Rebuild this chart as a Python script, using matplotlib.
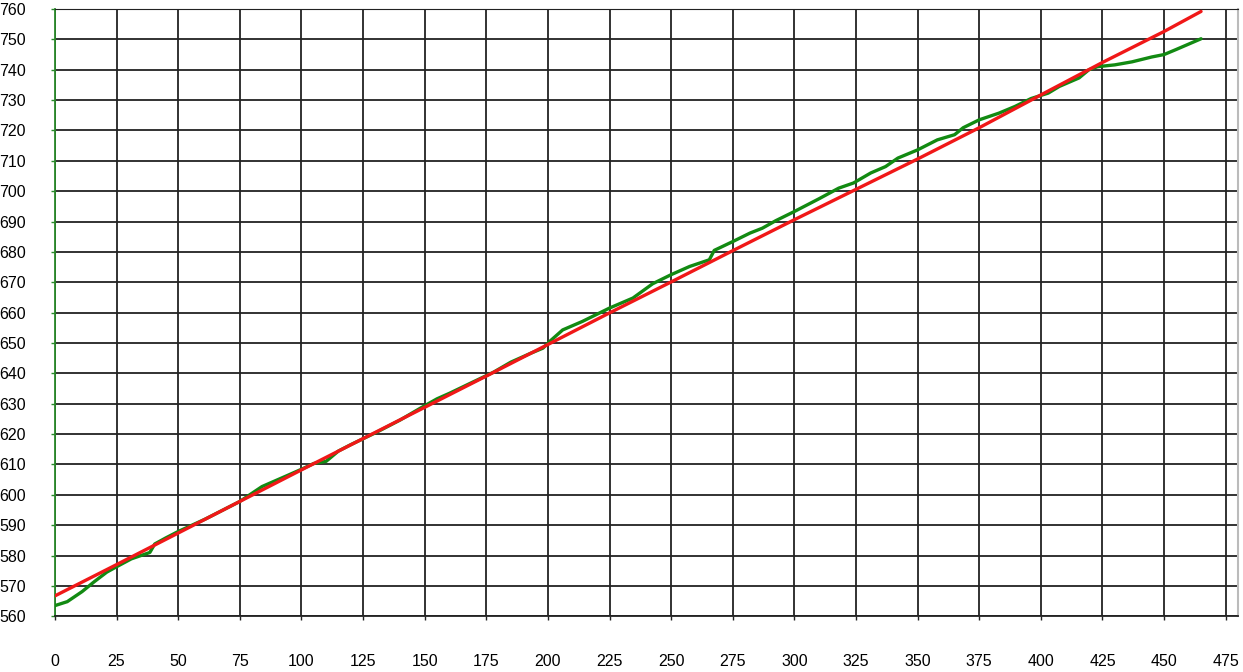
import matplotlib
matplotlib.use('Agg')
import matplotlib.pyplot as plt
from matplotlib.ticker import MultipleLocator

plt.rcParams['font.family'] = ['Liberation Sans', 'DejaVu Sans']

# измеренные значения (зелёная кривая)
green_x = [0, 5, 11, 16, 21, 25, 31, 36, 38.5, 40.5, 45, 50, 61, 75, 84, 95, 100,
           105, 110, 115, 120, 130, 140, 148, 155, 160, 170, 178, 185, 193, 198,
           201, 206, 214, 225, 234.5, 242.5, 250, 257.5, 265.5, 267.5, 275, 282,
           287, 292.5, 300, 310, 318, 324, 331, 337, 342, 350, 358, 365, 368.5,
           375, 383, 389.5, 396, 403, 407.5, 415.5, 419.5, 423, 430, 437, 445,
           450, 455, 465]
green_y = [563.5, 564.8, 568.1, 571.4, 574.5, 576.3, 578.9, 580.3, 581.0, 583.8,
           585.8, 587.9, 592.0, 597.8, 602.7, 606.6, 608.4, 610.3, 611.0, 614.4,
           616.5, 620.4, 624.6, 628.4, 631.6, 633.4, 637.3, 640.4, 643.7, 646.6,
           648.3, 650.7, 654.3, 657.1, 661.5, 664.8, 669.5, 672.5, 675.2, 677.4,
           680.5, 683.4, 686.2, 687.8, 690.3, 693.3, 697.5, 701.0, 702.7, 706.0,
           708.1, 710.9, 713.6, 716.9, 718.6, 720.9, 723.5, 725.7, 727.9, 730.5,
           732.3, 734.5, 737.3, 740.0, 741.0, 741.6, 742.6, 744.2, 745.0, 746.7,
           750.2]

# аппроксимация (красная линия)
red_x = [0, 25, 50, 75, 100, 125, 150, 175, 200, 225, 250, 275, 300, 325, 350,
         375, 400, 425, 450, 465]
red_y = [566.7, 577.0, 587.4, 597.8, 608.2, 618.5, 628.8, 639.1, 649.5, 659.9,
         670.1, 680.4, 690.6, 700.6, 710.6, 720.9, 731.7, 742.4, 752.6, 759.2]

fig = plt.figure(figsize=(12.43, 6.72), dpi=100)
ax = fig.add_axes([0.0442, 0.083, 0.9518, 0.9036])

ax.plot(green_x, green_y, color='#128a12', lw=2.4, zorder=3,
        solid_joinstyle='round', solid_capstyle='round')
ax.plot(red_x, red_y, color='#f01818', lw=2.4, zorder=4,
        solid_capstyle='round')

ax.set_xlim(0, 480)
ax.set_ylim(560, 760)
ax.xaxis.set_major_locator(MultipleLocator(25))
ax.yaxis.set_major_locator(MultipleLocator(10))
ax.grid(True, color='#222222', lw=1.3)
ax.set_axisbelow(True)

ax.spines['left'].set_color('#2a8a2a')
ax.spines['left'].set_linewidth(1.3)
ax.spines['bottom'].set_color('#222222')
ax.spines['bottom'].set_linewidth(1.3)
ax.spines['top'].set_color('#222222')
ax.spines['right'].set_color('#bbbbbb')
ax.spines['right'].set_linewidth(1.5)

ax.tick_params(axis='y', colors='#2a8a2a', labelcolor='black', length=3,
               width=1, pad=18, labelsize=11.5)
ax.tick_params(axis='x', colors='#222222', labelcolor='black', length=3,
               width=1, pad=24, labelsize=11.5)

plt.savefig('out.png', dpi=100)
